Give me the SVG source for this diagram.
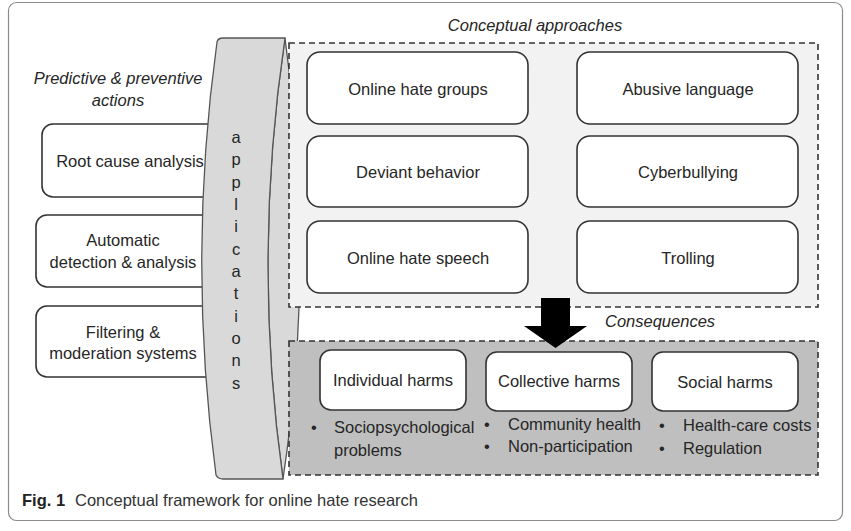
<svg xmlns="http://www.w3.org/2000/svg" width="851" height="531" viewBox="0 0 851 531">
<style>
  text { font-family: "Liberation Sans", Arial, sans-serif; font-size: 16.5px; fill: #262626; }
  .c { text-anchor: middle; }
  .it { font-style: italic; }
  .box { fill: #ffffff; stroke: #333333; stroke-width: 1.6; }
  .dash { stroke: #333333; stroke-width: 1.6; stroke-dasharray: 6 4; }
  .cyl { fill: #d9d9d9; stroke: #555555; stroke-width: 1.3; }
  .cap { font-size: 16.5px; fill: #333333; }
</style>
<rect width="851" height="531" fill="#ffffff"/>
<rect x="8.5" y="2.5" width="834" height="518" rx="8" fill="#ffffff" stroke="#8c8c8c" stroke-width="1.2"/>

<g id="label-predictive">
  <text class="c it" x="118" y="84">Predictive &amp; preventive</text>
  <text class="c it" x="118" y="106">actions</text>
</g>

<g id="node-root-cause">
  <rect class="box" x="42" y="124" width="180" height="73" rx="11"/>
  <text class="c" x="130" y="167">Root cause analysis</text>
</g>
<g id="node-automatic">
  <rect class="box" x="36" y="215" width="186" height="72" rx="11"/>
  <text class="c" x="123" y="246">Automatic</text>
  <text class="c" x="123" y="268">detection &amp; analysis</text>
</g>
<g id="node-filtering">
  <rect class="box" x="36" y="306" width="186" height="71" rx="11"/>
  <text class="c" x="123" y="338">Filtering &amp;</text>
  <text class="c" x="123" y="359">moderation systems</text>
</g>

<g id="node-applications">
  <path class="cyl" d="M 285,38 Q 252,259 283,479 Q 316,259 285,38 Z"/>
  <path class="cyl" d="M 217,42 Q 218,38 223,38 L 285,38 Q 252,259 283,479 L 223,479 Q 218,479 216,475 Q 187,259 217,42 Z"/>
  <g class="c">
    <text x="236" y="143">a</text>
    <text x="236" y="165">p</text>
    <text x="236" y="188">p</text>
    <text x="236" y="210">l</text>
    <text x="236" y="232">i</text>
    <text x="236" y="255">c</text>
    <text x="236" y="277">a</text>
    <text x="236" y="299">t</text>
    <text x="236" y="322">i</text>
    <text x="236" y="344">o</text>
    <text x="236" y="366">n</text>
    <text x="236" y="389">s</text>
  </g>
</g>

<g id="group-conceptual">
  <rect class="dash" x="289" y="43" width="529" height="264" fill="#f2f2f2"/>
  <text class="c it" x="535" y="31">Conceptual approaches</text>
</g>
<g id="node-online-hate-groups">
  <rect class="box" x="307" y="52" width="221" height="72" rx="13"/>
  <text class="c" x="418" y="95">Online hate groups</text>
</g>
<g id="node-abusive-language">
  <rect class="box" x="577" y="52" width="221" height="72" rx="13"/>
  <text class="c" x="688" y="95">Abusive language</text>
</g>
<g id="node-deviant-behavior">
  <rect class="box" x="307" y="136" width="221" height="71" rx="13"/>
  <text class="c" x="418" y="178">Deviant behavior</text>
</g>
<g id="node-cyberbullying">
  <rect class="box" x="577" y="136" width="221" height="71" rx="13"/>
  <text class="c" x="688" y="178">Cyberbullying</text>
</g>
<g id="node-online-hate-speech">
  <rect class="box" x="307" y="221" width="221" height="72" rx="13"/>
  <text class="c" x="418" y="264">Online hate speech</text>
</g>
<g id="node-trolling">
  <rect class="box" x="577" y="221" width="221" height="72" rx="13"/>
  <text class="c" x="688" y="264">Trolling</text>
</g>

<g id="group-consequences">
  <rect class="dash" x="289" y="341" width="529" height="134" fill="#bfbfbf"/>
  <text class="it" x="605" y="327">Consequences</text>
</g>

<g id="connectors">
  <path d="M 541,298 L 570,298 L 570,326 L 587,326 L 555.5,348 L 524,326 L 541,326 Z" fill="#000000"/>
</g>

<g id="node-individual-harms">
  <rect class="box" x="320" y="350" width="146" height="60" rx="11"/>
  <text class="c" x="393" y="386">Individual harms</text>
  <text x="311" y="433">•</text>
  <text x="334" y="433">Sociopsychological</text>
  <text x="334" y="456">problems</text>
</g>
<g id="node-collective-harms">
  <rect class="box" x="486" y="352" width="146" height="59" rx="11"/>
  <text class="c" x="559" y="387">Collective harms</text>
  <text x="484" y="430">•</text>
  <text x="508" y="430">Community health</text>
  <text x="484" y="452">•</text>
  <text x="508" y="452">Non-participation</text>
</g>
<g id="node-social-harms">
  <rect class="box" x="652" y="352" width="146" height="59" rx="11"/>
  <text class="c" x="725" y="388">Social harms</text>
  <text x="659" y="431">•</text>
  <text x="683" y="431">Health-care costs</text>
  <text x="659" y="454">•</text>
  <text x="683" y="454">Regulation</text>
</g>

<g id="caption">
  <text class="cap" x="22" y="506"><tspan font-weight="bold" fill="#222222">Fig. 1</tspan><tspan x="75">Conceptual framework for online hate research</tspan></text>
</g>
</svg>
